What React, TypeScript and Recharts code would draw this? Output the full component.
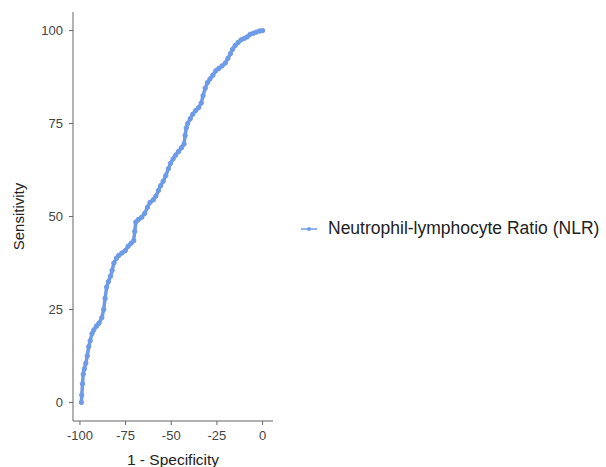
import { Label, Legend, Line, LineChart, XAxis, YAxis } from "recharts";

// 1 - specificity (as plotted, negative) and sensitivity
const fpr = [
  -99.2, -99, -98.6, -98.2, -97.6, -96.8, -96, -95.2, -94.4, -93.4, -92.4, -91, -89.6, -88, -87,
  -86.2, -85.4, -84.4, -83.2, -82.4, -81.4, -80, -78.8, -77, -75.2, -73.6, -72, -70.6, -70, -69.4,
  -68, -66.2, -64.6, -63, -61.6, -59.8, -58.4, -57, -55.8, -54.4, -53, -51.6, -50.4, -49, -47.6,
  -46, -44.4, -43, -42.4, -41.8, -41, -39.6, -38.2, -36.6, -35, -33.6, -32.6, -31.4, -30.2, -28.8,
  -27.2, -25.6, -24, -22.2, -20.4, -19, -17.6, -16.4, -15, -13.4, -11.8, -10, -8.4, -6.8, -5, -3.4,
  -1.6, 0,
];
const sens = [
  0, 2, 5, 7.6, 9, 10.5, 12.5, 15, 16.6, 18.5, 19.5, 20.5, 21.3, 22.8, 25,
  28, 31, 32.5, 34, 35.5, 37.5, 38.8, 39.5, 40.2, 40.8, 42, 42.8, 43.5, 46, 48.5,
  49.2, 49.8, 50.8, 52.5, 53.8, 54.5, 55.5, 57, 58.3, 59.5, 61, 62.8, 64.3, 65.5, 66.5,
  67.5, 68.5, 69.5, 71.8, 73.8, 75, 76.3, 77.5, 78.5, 79.3, 80.5, 82.5, 84.5, 86, 87,
  88, 89.2, 89.8, 90.5, 91.3, 92.5, 93.8, 95, 96, 96.8, 97.5, 97.9, 98.3, 99, 99.3, 99.6,
  99.9, 100,
];
const xTicks = [-100, -75, -50, -25, 0];
const yTicks = [0, 25, 50, 75, 100];
const seriesName = "Neutrophil-lymphocyte Ratio (NLR)";

const data = fpr.map((x, i) => ({ x, y: sens[i] }));

const color = "#6e9be8";
const font = "'Liberation Sans', Arial, sans-serif";

function LegendBox() {
  return (
    <div style={{ display: "flex", alignItems: "center", fontFamily: font, fontSize: 17.5, color: "#222", whiteSpace: "nowrap" }}>
      <svg width={18} height={10} style={{ marginRight: 10 }}>
        <line x1={1} y1={5} x2={17} y2={5} stroke={color} strokeWidth={1.5} />
        <circle cx={9} cy={5} r={2} fill={color} />
      </svg>
      <span>{seriesName}</span>
    </div>
  );
}

export default function App() {
  return (
    <div style={{ position: "absolute", left: 0, top: 0, background: "#fff" }}>
      <LineChart width={606} height={467} data={data} margin={{ top: 12, right: 333, bottom: 0, left: 0 }}>
        <XAxis
          type="number"
          dataKey="x"
          domain={[-103.8, 5.7]}
          ticks={xTicks}
          height={46}
          stroke="#666"
          tickSize={4}
          tickMargin={6}
          tick={{ fill: "#444", fontSize: 13, fontFamily: font }}
        >
          <Label value="1 - Specificity" position="insideBottom" offset={2} style={{ fill: "#222", fontSize: 15.5, fontFamily: font }} />
        </XAxis>
        <YAxis
          type="number"
          dataKey="y"
          domain={[-5, 105]}
          ticks={yTicks}
          width={73}
          stroke="#666"
          tickSize={4}
          tickMargin={6}
          tick={{ fill: "#444", fontSize: 13, fontFamily: font }}
        >
          <Label value="Sensitivity" angle={-90} position="insideLeft" offset={19} style={{ fill: "#222", fontSize: 15, fontFamily: font, textAnchor: "middle" }} />
        </YAxis>
        <Legend
          layout="vertical"
          align="center"
          verticalAlign="middle"
          content={() => <LegendBox />}
          wrapperStyle={{ left: 300, top: 218, width: 306 }}
        />
        <Line
          type="linear"
          dataKey="y"
          name={seriesName}
          stroke={color}
          strokeWidth={3.5}
          dot={{ r: 2.2, fill: color, stroke: color, strokeWidth: 1 }}
          isAnimationActive={false}
        />
      </LineChart>
    </div>
  );
}
